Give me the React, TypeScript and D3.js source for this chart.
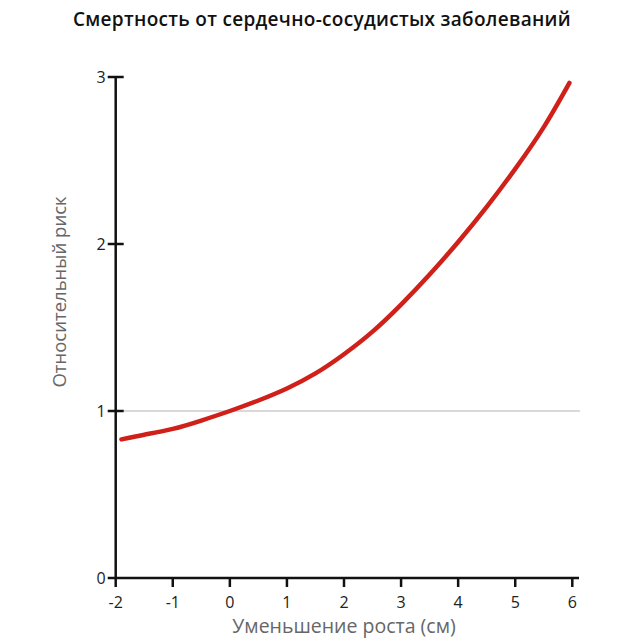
import { useEffect, useRef } from "react";
import * as d3 from "d3";

// Height reduction (cm) vs relative risk of CVD mortality
const heightLoss = [-1.9, -1.5, -1, -0.5, 0, 0.5, 1, 1.5, 2, 2.5, 3, 3.5, 4, 4.5, 5, 5.5, 5.95];
const relRisk = [0.83, 0.858, 0.893, 0.943, 1.0, 1.063, 1.135, 1.225, 1.34, 1.475, 1.637, 1.817, 2.012, 2.222, 2.45, 2.7, 2.965];
const xTicks = [-2, -1, 0, 1, 2, 3, 4, 5, 6];
const yTicks = [0, 1, 2, 3];

const title = "Смертность от сердечно-сосудистых заболеваний";
const xLabel = "Уменьшение роста (см)";
const yLabel = "Относительный риск";

export default function App() {
  const svgRef = useRef<SVGSVGElement>(null);

  useEffect(() => {
    const svg = d3.select(svgRef.current);
    svg.selectAll("*").remove();

    const font = "'Open Sans', 'Noto Sans', sans-serif";
    const x = d3.scaleLinear().domain([-2, 6]).range([115.7, 572.3]);
    const y = d3.scaleLinear().domain([0, 3]).range([578, 77]);

    svg
      .append("rect")
      .attr("width", 640)
      .attr("height", 640)
      .attr("fill", "#fff");

    svg
      .append("text")
      .attr("x", 322)
      .attr("y", 26)
      .attr("text-anchor", "middle")
      .attr("font-family", font)
      .attr("font-weight", 600)
      .attr("font-size", 19)
      .attr("letter-spacing", 0.3)
      .attr("fill", "#111")
      .text(title);

    // reference line at risk = 1
    svg
      .append("line")
      .attr("x1", x(-2) + 8)
      .attr("x2", 580)
      .attr("y1", y(1))
      .attr("y2", y(1))
      .attr("stroke", "#d9d9d9")
      .attr("stroke-width", 2);

    // axes
    const gx = svg.append("g").attr("transform", `translate(0,${y(0)})`);
    gx.append("line")
      .attr("x1", x(-2))
      .attr("x2", 579)
      .attr("stroke", "#111")
      .attr("stroke-width", 2.5);
    gx.selectAll("line.tick")
      .data(xTicks)
      .enter()
      .append("line")
      .attr("class", "tick")
      .attr("x1", (d) => x(d))
      .attr("x2", (d) => x(d))
      .attr("y1", 0)
      .attr("y2", 9)
      .attr("stroke", "#111")
      .attr("stroke-width", 2.5);
    gx.selectAll("text")
      .data(xTicks)
      .enter()
      .append("text")
      .attr("x", (d) => x(d))
      .attr("y", 30)
      .attr("text-anchor", "middle")
      .attr("font-family", font)
      .attr("font-size", 16)
      .attr("fill", "#222")
      .text((d) => String(d));

    const gy = svg.append("g").attr("transform", `translate(${x(-2)},0)`);
    gy.append("line")
      .attr("y1", y(3))
      .attr("y2", y(0))
      .attr("stroke", "#111")
      .attr("stroke-width", 2.5);
    gy.selectAll("line.tick")
      .data(yTicks)
      .enter()
      .append("line")
      .attr("class", "tick")
      .attr("x1", -8)
      .attr("x2", (d) => (d === 0 ? 0 : 8))
      .attr("y1", (d) => y(d))
      .attr("y2", (d) => y(d))
      .attr("stroke", "#111")
      .attr("stroke-width", 2.5);
    gy.selectAll("text")
      .data(yTicks)
      .enter()
      .append("text")
      .attr("x", -10)
      .attr("y", (d) => y(d) + 6)
      .attr("text-anchor", "end")
      .attr("font-family", font)
      .attr("font-size", 16)
      .attr("fill", "#222")
      .text((d) => String(d));

    // axis titles
    svg
      .append("text")
      .attr("x", 344)
      .attr("y", 633)
      .attr("text-anchor", "middle")
      .attr("font-family", font)
      .attr("font-size", 19.5)
      .attr("fill", "#666")
      .text(xLabel);

    svg
      .append("text")
      .attr("transform", "translate(66,292) rotate(-90)")
      .attr("text-anchor", "middle")
      .attr("font-family", font)
      .attr("font-size", 18.5)
      .attr("fill", "#666")
      .text(yLabel);

    // risk curve
    const pts = heightLoss.map((h, i) => [h, relRisk[i]] as [number, number]);
    const line = d3
      .line<[number, number]>()
      .x((d) => x(d[0]))
      .y((d) => y(d[1]))
      .curve(d3.curveNatural);
    svg
      .append("path")
      .attr("d", line(pts))
      .attr("fill", "none")
      .attr("stroke", "#d0201a")
      .attr("stroke-width", 4.5)
      .attr("stroke-linecap", "round");
  }, []);

  return (
    <svg
      ref={svgRef}
      width={640}
      height={640}
      style={{ position: "absolute", left: 0, top: 0, display: "block" }}
    />
  );
}
